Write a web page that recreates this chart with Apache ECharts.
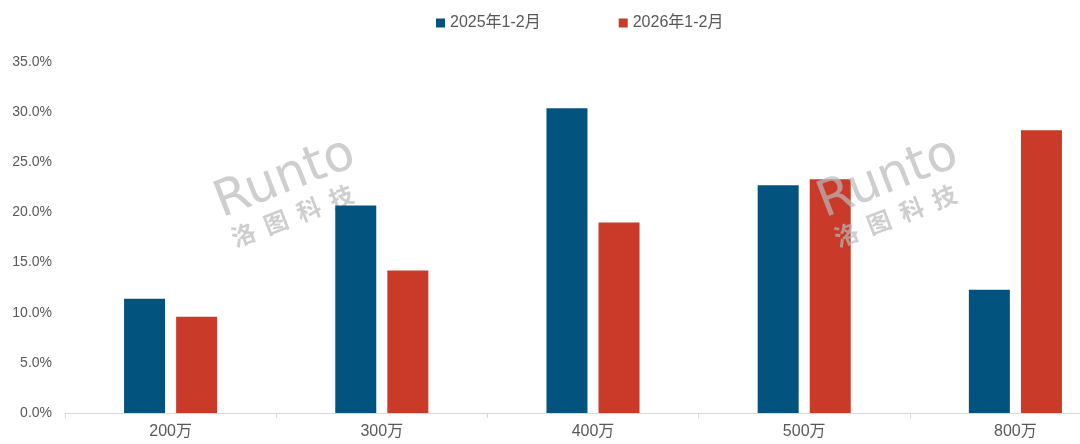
<!DOCTYPE html>
<html><head><meta charset="utf-8">
<script src="https://cdn.jsdelivr.net/npm/echarts@6/dist/echarts.min.js"></script>
<style>html,body{margin:0;padding:0;background:#fff}#c{width:1080px;height:444px}</style>
</head><body><div id="c"></div>
<script>
const categories = ['200万','300万','400万','500万','800万'];
const seriesNames = ['2025年1-2月','2026年1-2月'];
const values2025 = [11.4, 20.7, 30.4, 22.7, 12.3];
const values2026 = [9.6, 14.2, 19.0, 23.3, 28.2];
const colors = ['#03537f','#c93a29'];

const chart = echarts.init(document.getElementById('c'));
function watermark(x, y, z) {
  return {
    type: 'group', x: x, y: y, rotation: 0.37, silent: true, z: z,
    children: [
      {type:'text', x:0, y:0, z: z, style:{text:'Runto', font:'50px "DejaVu Sans", sans-serif', fill:'rgba(185,185,185,0.7)'}},
      {type:'text', x:2, y:50, z: z, style:{text:'洛  图  科  技', font:'bold 24px "Noto Sans CJK SC", sans-serif', fill:'rgba(185,185,185,0.7)'}}
    ]
  };
}
chart.setOption({
  animation: false,
  color: colors,
  legend: {
    top: 10, left: 431, itemWidth: 9, itemHeight: 9, itemGap: 78,
    icon: 'rect',
    textStyle: {fontSize: 16, color: '#595959', fontFamily: '"Liberation Sans", "Noto Sans CJK SC", sans-serif'},
    data: seriesNames
  },
  grid: {left: 65, top: 62, bottom: 31, right: -41, outerBoundsMode: 'none', containLabel: false},
  xAxis: {
    type: 'category', data: categories,
    axisLine: {lineStyle: {color: '#d9d9d9'}},
    axisTick: {show: true, length: 5, lineStyle: {color: '#d9d9d9'}},
    axisLabel: {fontSize: 16, color: '#595959', margin: 11, fontFamily: '"Liberation Sans", "Noto Sans CJK SC", sans-serif'}
  },
  yAxis: {
    type: 'value', min: 0, max: 35, interval: 5,
    splitLine: {show: false},
    axisLine: {show: false}, axisTick: {show: false},
    axisLabel: {fontSize: 14, color: '#595959', margin: 13, formatter: v => v.toFixed(1) + '%', fontFamily: '"Liberation Sans", sans-serif'}
  },
  series: [
    {name: seriesNames[0], type: 'bar', data: values2025, barWidth: 41, barGap: '27%'},
    {name: seriesNames[1], type: 'bar', data: values2026, barWidth: 41, barGap: '27%'}
  ],
  graphic: [watermark(208, 182, 0), watermark(811, 182, 100)]
});
</script></body></html>
